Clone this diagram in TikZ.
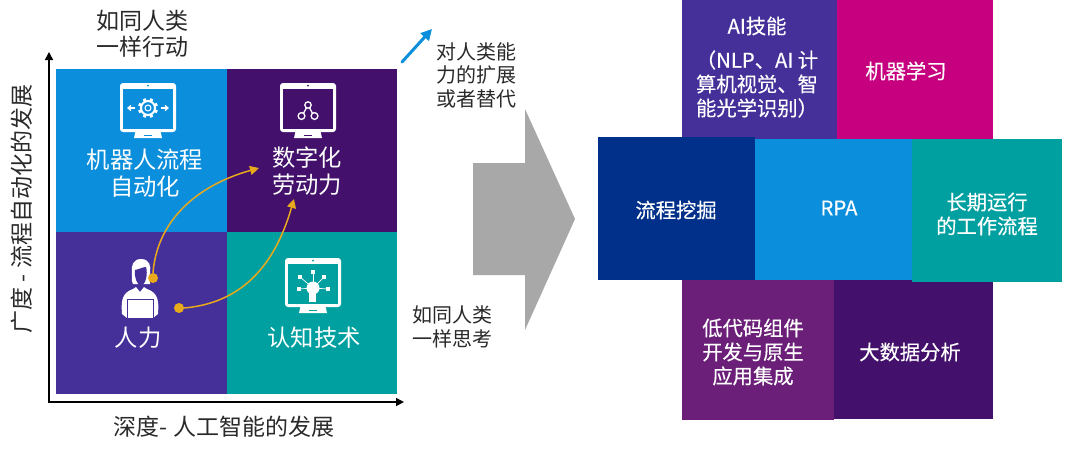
\documentclass[tikz,border=0pt]{standalone}
\usepackage{fontspec}
\setmainfont{Noto Sans CJK SC}
\newfontfamily\medcjk[FakeBold=0.35]{Noto Sans CJK SC}
\usetikzlibrary{arrows.meta,calc}
\definecolor{cBlue}{HTML}{0B8EDB}
\definecolor{cDark}{HTML}{43106B}
\definecolor{cIndigo}{HTML}{45309A}
\definecolor{cTeal}{HTML}{00A0A0}
\definecolor{cMag}{HTML}{C6007E}
\definecolor{cNavy}{HTML}{00308A}
\definecolor{cPurp}{HTML}{6B1F78}
\definecolor{cGrey}{HTML}{A8A8A8}
\definecolor{cOrange}{HTML}{E8A91C}
\definecolor{cInk}{HTML}{2A2A2A}
\tikzset{
  cellText/.style={text=white,align=center,font=\fontsize{23.3}{27}\selectfont,inner sep=0pt},
  blockText/.style={text=white,align=center,font=\medcjk\fontsize{20.3}{24}\selectfont,inner sep=0pt},
  noteText/.style={text=cInk,align=center,font=\fontsize{20}{23.5}\selectfont,inner sep=0pt},
  axisText/.style={text=cInk,align=center,font=\fontsize{23}{26}\selectfont,inner sep=0pt},
  axisLine/.style={black,line width=1.6pt,-{Triangle[length=8pt,width=8pt]}},
  flow/.style={cOrange,line width=1.5pt,-{Triangle[length=9pt,width=9pt]}},
  dotNode/.style={circle,fill=cOrange,minimum size=10pt,inner sep=0pt},
  iconLine/.style={white,line width=1.3pt},
}
\newcommand{\monitorIcon}[3]{%
  \begin{scope}[shift={(#1,#2)}]
    \fill[white] (16,46) -- (40,46) -- (42,55) -- (14,55) -- cycle;
    \fill[#3] (24,51.5) rectangle (32,53);
    \fill[white,rounded corners=3pt] (0,0) rectangle (56,49);
    \fill[#3] (3,5.5) rectangle (53,46);
    \fill[#3] (28,2.7) circle (1pt);
  \end{scope}}
\begin{document}
\begin{tikzpicture}[x=1pt,y=-1pt]
\useasboundingbox (0,0) rectangle (1080,456);
\fill[white] (0,0) rectangle (1080,456);

% left quadrant
\fill[cBlue] (56,69) rectangle (227,232);
\fill[cDark] (227,69) rectangle (397,232);
\fill[cIndigo] (56,232) rectangle (227,394);
\fill[cTeal] (227,232) rectangle (397,394);

% axes
\coordinate (axO) at (49,402);
\coordinate (axY) at (49,52);
\coordinate (axX) at (404,402);
\draw[axisLine] (49,403) -- (axY);
\draw[axisLine] (48.2,402) -- (axX);

% icons
\monitorIcon{120}{83}{cBlue}
\monitorIcon{280}{83}{cDark}
\monitorIcon{285}{258}{cTeal}

% gear
\foreach \a in {0,45,...,315}{\draw[white,line width=3pt] (148,108) ++(\a+22.5:7) -- ++(\a+22.5:3);}
\draw[white,line width=2pt] (148,108) circle (7pt);
\draw[white,line width=1pt] (148,108) circle (3pt);
\draw[iconLine,-{Straight Barb[length=3pt,width=5pt]}] (135,108) -- (127,108);
\draw[iconLine,-{Straight Barb[length=3pt,width=5pt]}] (161,108) -- (169,108);

% network icon
\draw[iconLine] (308,105) -- (302,116) (308,105) -- (314,116);
\draw[white,line width=1.3pt,fill=cDark] (308,105) circle (3.2pt) (301.5,116) circle (3.4pt) (314.5,116) circle (3.4pt);

% cognitive icon
\foreach \dx/\dy in {-14/1,-13/-11,0/-16,11/-11,15/1}{
  \draw[white,line width=.7pt] (313,288) -- ++(\dx,\dy);
  \fill[white] ($(313,288)+(\dx,\dy)$) ++(-2.3,-2.3) rectangle ++(4.6,4.6);
}
\fill[white] (313,288) circle (6.5pt);
\fill[white] (308.5,291) rectangle (316,302);
\fill[cTeal] (316.5,297) rectangle (320,303);

% person
\fill[white] (122,314) .. controls (121,300) and (122,293) .. (133,289) -- (136,287) -- (140,292) -- (144,287) -- (147,289) .. controls (158,293) and (159,300) .. (158,314) -- (153,318) -- (127,318) -- cycle;
\fill[white] (141,259) .. controls (150,259) and (151,267) .. (150,272) .. controls (150,278) and (151,281) .. (150,284) -- (133,284) .. controls (131,280) and (132,276) .. (132,272) .. controls (131,266) and (133,259) .. (141,259) -- cycle;
\fill[cIndigo] (135,270) .. controls (140,269) and (143,267) .. (146,267) .. controls (148,274) and (146,284) .. (141,286) .. controls (137,285) and (134,277) .. (135,270) -- cycle;
\fill[white,draw=cIndigo,line width=.9pt] (127,299.5) rectangle (153.5,318.5);

% curves
\node[dotNode] (dotA) at (153,278) {};
\node[dotNode] (dotB) at (179,308) {};
\coordinate (tipA) at (259,168);
\coordinate (tipB) at (294,199);
\draw[flow] (dotA.north) .. controls (157,222) and (195,186) .. (tipA);
\draw[flow] (dotB.east) .. controls (240,303) and (274,268) .. (tipB);

% quadrant labels
\node[cellText] (lblRpa) at (145,173) {机器人流程\\自动化};
\node[cellText] (lblDw) at (307,171.5) {数字化\\劳动力};
\node[cellText] (lblHum) at (138,338) {人力};
\node[cellText] (lblCog) at (314,338) {认知技术};

% axis labels
\node[axisText] (lblAct) at (142,34) {如同人类\\一样行动};
\node[axisText,rotate=90] (lblY) at (22,209) {广度 - 流程自动化的发展};
\node[axisText] (lblX) at (224,427) {深度- 人工智能的发展};
\node[noteText] (lblExt) at (476,75) {对人类能\\力的扩展\\或者替代};
\node[noteText] (lblThink) at (452,327) {如同人类\\一样思考};

% blue arrow
\coordinate (blA) at (402,62);
\coordinate (blB) at (432,29);
\draw[cBlue,line width=3pt,line cap=round,-{Triangle[length=11pt,width=11pt]}] (blA) -- (blB);

% grey arrow
\fill[cGrey] (473,163) -- (525,163) -- (525,109) -- (575,219) -- (525,330) -- (525,275) -- (473,275) -- cycle;

% right blocks
\fill[cIndigo] (682,0) rectangle (837,139);
\fill[cMag] (837,0) rectangle (993,139);
\fill[cPurp] (682,280) rectangle (834,419.5);
\fill[cDark] (834,280) rectangle (993,419);
\fill[cNavy] (598,137) rectangle (755,280);
\fill[cBlue] (755,139) rectangle (912,280);
\fill[cTeal] (912,139) rectangle (1062,282);

\node[blockText] (tAi) at (757,26) {AI技能};
\node[blockText] (tAiSub) at (757,84) {（NLP、AI 计\\算机视觉、智\\能光学识别）};
\node[blockText] (tMl) at (906,71) {机器学习};
\node[blockText] (tPm) at (676,210) {流程挖掘};
\node[blockText] (tRpa) at (839,208) {RPA};
\node[blockText] (tLong) at (987,214) {长期运行\\的工作流程};
\node[blockText] (tLow) at (753,352) {低代码组件\\开发与原生\\应用集成};
\node[blockText] (tBig) at (910,352) {大数据分析};
\end{tikzpicture}
\end{document}
